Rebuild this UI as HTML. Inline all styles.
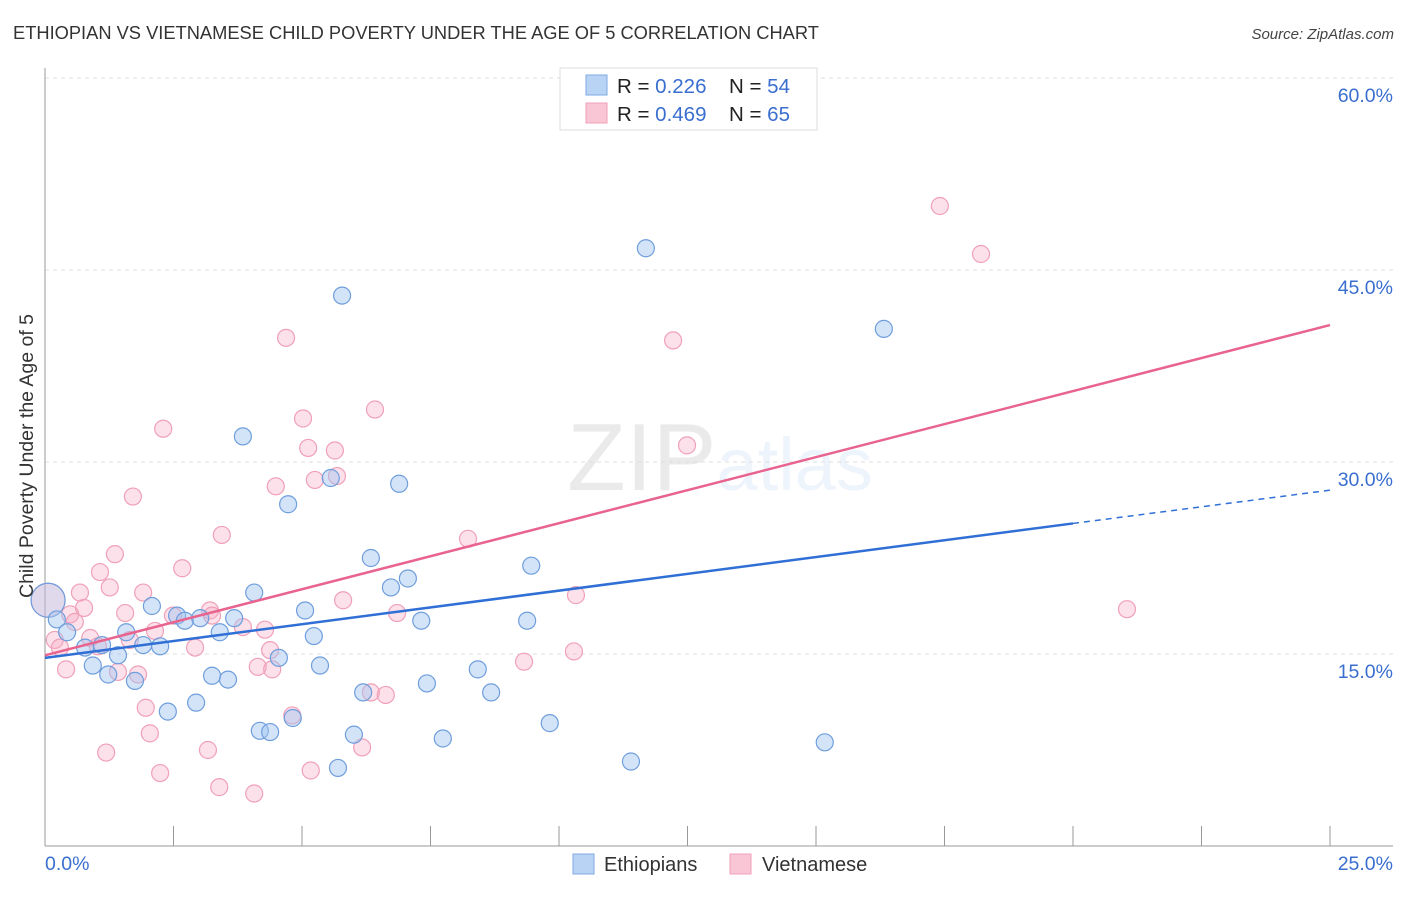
<!DOCTYPE html>
<html><head><meta charset="utf-8"><style>
body{margin:0;background:#fff;font-family:"Liberation Sans",sans-serif;}
svg text{font-family:"Liberation Sans",sans-serif;}
</style></head><body>
<svg id="chart" width="1406" height="892" viewBox="0 0 1406 892" xmlns="http://www.w3.org/2000/svg">
<text x="13" y="39" font-size="18.3" fill="#333">ETHIOPIAN VS VIETNAMESE CHILD POVERTY UNDER THE AGE OF 5 CORRELATION CHART</text>
<text x="1394" y="39" font-size="15" fill="#444" font-style="italic" text-anchor="end">Source: ZipAtlas.com</text>
<text x="720" y="490" font-size="96" text-anchor="middle" fill="#000" opacity="0.08" font-family="Liberation Serif, serif"><tspan>ZIP</tspan><tspan fill="#3a7bd5" font-family="Liberation Sans, sans-serif" font-size="74" opacity="1">atlas</tspan></text>
<g id="grid"></g>
<g id="axes"></g>
<g id="marks"></g>
<text transform="translate(33,456) rotate(-90)" font-size="19.5" fill="#333" text-anchor="middle">Child Poverty Under the Age of 5</text>
<g>
<rect x="560" y="68" width="257" height="62" fill="#fff" stroke="#ddd"/>
<rect x="586" y="75" width="21" height="20" fill="#b8d3f4" stroke="#7fa9e0"/>
<rect x="586" y="103" width="21" height="20" fill="#f9c6d6" stroke="#f0a0b8"/>
<text x="617" y="93" font-size="20.5" fill="#222">R = <tspan fill="#3a6fd0">0.226</tspan></text>
<text x="729" y="93" font-size="20.5" fill="#222">N = <tspan fill="#3a6fd0">54</tspan></text>
<text x="617" y="121" font-size="20.5" fill="#222">R = <tspan fill="#3a6fd0">0.469</tspan></text>
<text x="729" y="121" font-size="20.5" fill="#222">N = <tspan fill="#3a6fd0">65</tspan></text>
</g>
<g>
<rect x="573" y="854" width="21" height="20" fill="#b8d3f4" stroke="#7fa9e0"/>
<text x="604" y="871" font-size="20" fill="#333">Ethiopians</text>
<rect x="730" y="854" width="21" height="20" fill="#f9c6d6" stroke="#f0a0b8"/>
<text x="762" y="871" font-size="20" fill="#333">Vietnamese</text>
</g>
</svg>
<script>
const yTicks=[15,30,45,60];
const yTickLabels=["15.0%","30.0%","45.0%","60.0%"];
const xTickLabels=["0.0%","25.0%"];
const blueX=[0.06,0.23,0.43,0.78,0.93,1.11,1.23,1.42,1.58,1.75,1.91,2.08,2.24,2.39,2.57,2.72,2.94,3.02,3.25,3.40,3.56,3.68,3.85,4.07,4.18,4.38,4.55,4.73,4.82,5.06,5.23,5.35,5.56,5.70,5.78,6.01,6.19,6.34,6.73,6.89,7.06,7.32,7.43,7.74,8.42,8.68,9.38,9.46,9.82,11.40,11.69,15.17,16.32];
const blueY=[19.2,17.7,16.7,15.5,14.1,15.7,13.4,14.9,16.7,12.9,15.7,18.75,15.6,10.5,18.0,17.6,11.2,17.8,13.3,16.7,13.0,17.8,32.0,19.8,9.0,8.9,14.7,26.7,10.0,18.4,16.4,14.1,28.75,6.1,43.0,8.7,12.0,22.5,20.2,28.3,20.9,17.6,12.7,8.4,13.8,12.0,17.6,21.9,9.6,6.6,46.7,8.1,40.4];
const pinkX=[0.06,0.19,0.29,0.41,0.49,0.58,0.68,0.76,0.88,1.03,1.07,1.19,1.26,1.36,1.42,1.56,1.65,1.71,1.81,1.91,1.96,2.04,2.14,2.24,2.30,2.49,2.67,2.92,3.17,3.21,3.25,3.39,3.44,3.85,4.07,4.14,4.28,4.38,4.42,4.49,4.69,4.81,5.02,5.12,5.17,5.25,5.64,5.68,5.80,6.17,6.34,6.42,6.63,6.85,8.23,9.32,10.29,10.33,12.22,12.49,17.41,18.21,21.05];
const pinkY=[19.2,16.1,15.5,13.8,18.1,17.5,19.8,18.6,16.25,15.6,21.4,7.3,20.2,22.8,13.6,18.2,16.1,27.3,13.4,19.8,10.8,8.8,16.8,5.7,32.6,18.0,21.7,15.5,7.5,18.4,18.0,4.6,24.3,17.1,4.1,14.0,16.9,15.3,13.8,28.1,39.7,10.2,33.4,31.1,5.9,28.6,30.9,28.9,19.2,7.7,12.0,34.1,11.8,18.2,24.0,14.4,15.2,19.6,39.5,31.3,50.0,46.25,18.5];
const blueTrend=[14.7,25.2,27.8]; // at x=0, 20, 25
const pinkTrend=[14.9,40.7]; // at x=0, 25
const NS="http://www.w3.org/2000/svg";
const X=v=>45+v/25*1285;
const Y=v=>846-v*12.8;
function mk(tag,attrs,parent){const e=document.createElementNS(NS,tag);for(const k in attrs)e.setAttribute(k,attrs[k]);parent.appendChild(e);return e;}
const grid=document.getElementById('grid'),axes=document.getElementById('axes'),marks=document.getElementById('marks');
yTicks.forEach((t,i)=>{
 const l=mk('line',{x1:45,x2:1393,y1:Y(t),y2:Y(t),stroke:'#ddd','stroke-dasharray':'4,4'},grid);
 
 
 const tx=mk('text',{x:1393,y:Y(t)+24,'font-size':19.5,fill:'#3a6fd0','text-anchor':'end'},axes);
 tx.textContent=yTickLabels[i];
 
 
});
mk('line',{x1:45,x2:45,y1:68,y2:846,stroke:'#999'},axes);
mk('line',{x1:45,x2:1393,y1:846,y2:846,stroke:'#999'},axes);
for(let i=0;i<=10;i++){const tk=mk('line',{x1:X(i*2.5),x2:X(i*2.5),y1:826,y2:846,stroke:'#999'},axes);
 
 }
const xl0=mk('text',{x:45,y:870,'font-size':19.5,fill:'#3a6fd0'},axes);xl0.textContent=xTickLabels[0];


const xl1=mk('text',{x:1393,y:870,'font-size':19.5,fill:'#3a6fd0','text-anchor':'end'},axes);xl1.textContent=xTickLabels[1];


function pts(xs,ys,fill,stroke,name,bigFill){xs.forEach((x,i)=>{
 const c=mk('circle',{cx:X(x),cy:Y(ys[i]),r:i===0?17:8.5,fill:i===0?bigFill:fill,stroke:stroke,'stroke-width':1.2},marks);
 
 });}
pts(pinkX,pinkY,'rgba(246,170,195,0.35)','#f0a0b8','point-vietnamese','rgba(246,170,195,0.35)');
pts(blueX,blueY,'rgba(160,196,240,0.45)','#6f9edd','point-ethiopians','rgba(160,196,240,0.3)');
const bl=mk('line',{x1:X(0),y1:Y(blueTrend[0]),x2:X(20),y2:Y(blueTrend[1]),stroke:'#2f6fd6','stroke-width':2.5},marks);


const bd=mk('line',{x1:X(20),y1:Y(blueTrend[1]),x2:X(25),y2:Y(blueTrend[2]),stroke:'#2f6fd6','stroke-width':1.5,'stroke-dasharray':'6,5'},marks);


const pl=mk('line',{x1:X(0),y1:Y(pinkTrend[0]),x2:X(25),y2:Y(pinkTrend[1]),stroke:'#e8648f','stroke-width':2.5},marks);


</script>
</body></html>
